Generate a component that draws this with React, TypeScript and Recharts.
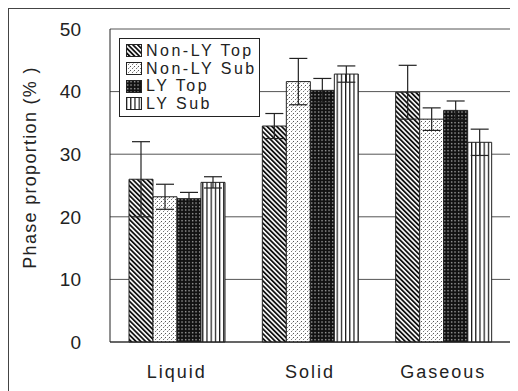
import { BarChart, Bar, XAxis, YAxis, CartesianGrid, ErrorBar, Legend } from 'recharts';

const categories = ['Liquid', 'Solid', 'Gaseous'];
const seriesNames = ['Non-LY Top', 'Non-LY Sub', 'LY Top', 'LY Sub'];

const nonLyTop = [26.0, 34.5, 39.9];
const nonLyTopErr = [6.0, 2.0, 4.3];
const nonLySub = [23.2, 41.6, 35.6];
const nonLySubErr = [2.0, 3.7, 1.8];
const lyTop = [22.9, 40.2, 37.0];
const lyTopErr = [1.0, 1.9, 1.5];
const lySub = [25.5, 42.8, 31.9];
const lySubErr = [0.9, 1.3, 2.1];

const yTicks = [0, 10, 20, 30, 40, 50];

const data = categories.map((name, i) => ({
  name,
  nonLyTop: nonLyTop[i],
  nonLyTopErr: nonLyTopErr[i],
  nonLySub: nonLySub[i],
  nonLySubErr: nonLySubErr[i],
  lyTop: lyTop[i],
  lyTopErr: lyTopErr[i],
  lySub: lySub[i],
  lySubErr: lySubErr[i],
}));

const series = [
  { key: 'nonLyTop', err: 'nonLyTopErr', fill: 'url(#pat-diag)' },
  { key: 'nonLySub', err: 'nonLySubErr', fill: 'url(#pat-dots)' },
  { key: 'lyTop', err: 'lyTopErr', fill: 'url(#pat-dark)' },
  { key: 'lySub', err: 'lySubErr', fill: 'url(#pat-vert)' },
];

const FONT = '"Liberation Sans", Arial, sans-serif';
const INK = '#222';

function Patterns() {
  return (
    <defs>
      <pattern id="pat-diag" width="3.4" height="3.4" patternUnits="userSpaceOnUse" patternTransform="rotate(-45)">
        <rect width="3.4" height="3.4" fill="#fff" />
        <rect x="0" width="1.8" height="3.4" fill="#111" />
      </pattern>
      <pattern id="pat-dots" width="4" height="4" patternUnits="userSpaceOnUse">
        <rect width="4" height="4" fill="#fff" />
        <rect x="0" y="0" width="1" height="1" fill="#555" />
        <rect x="2" y="2" width="1" height="1" fill="#777" />
        <rect x="3" y="1" width="0.8" height="0.8" fill="#aaa" />
      </pattern>
      <pattern id="pat-dark" width="3.5" height="3.5" patternUnits="userSpaceOnUse">
        <rect width="3.5" height="3.5" fill="#111" />
        <rect x="1" y="1" width="1.2" height="1.2" fill="#ddd" />
      </pattern>
      <pattern id="pat-vert" width="4.2" height="4" patternUnits="userSpaceOnUse">
        <rect width="4.2" height="4" fill="#fff" />
        <rect x="0" width="1.2" height="4" fill="#111" />
      </pattern>
    </defs>
  );
}

function YLabel({ viewBox }: any) {
  const x = viewBox.x - 20;
  const y = viewBox.y + viewBox.height / 2 - 18;
  return (
    <text
      x={x}
      y={y}
      transform={`rotate(-90, ${x}, ${y})`}
      textAnchor="middle"
      dominantBaseline="central"
      fontFamily={FONT}
      fontSize={18}
      fill={INK}
      letterSpacing={1.3}
    >
      Phase proportion (% )
    </text>
  );
}

function LegendBox() {
  return (
    <div
      style={{
        border: `1px solid ${INK}`,
        background: '#fff',
        padding: '3px 6px',
        width: 127,
        fontFamily: FONT,
        fontSize: 16,
        color: INK,
        letterSpacing: 2.5,
        lineHeight: '17.7px',
        whiteSpace: 'nowrap',
      }}
    >
      {seriesNames.map((name, i) => (
        <div key={name} style={{ display: 'flex', alignItems: 'center' }}>
          <svg width={16} height={13} style={{ marginRight: 4, flex: 'none' }}>
            <rect x={0.5} y={0.5} width={15} height={12} fill={series[i].fill} stroke={INK} />
          </svg>
          <span>{name}</span>
        </div>
      ))}
    </div>
  );
}

export default function App() {
  return (
    <div
      style={{
        borderTop: '1px solid #444',
        borderLeft: '1px solid #444',
        width: 509,
        height: 382,
        background: '#fff',
      }}
    >
      <BarChart
        width={509}
        height={382}
        data={data}
        margin={{ top: 20, right: 8, left: 41, bottom: 19 }}
        barSize={24}
        barGap={0}
      >
        <Patterns />
        <CartesianGrid vertical={false} stroke="#555" strokeWidth={1} />
        <XAxis
          dataKey="name"
          axisLine={{ stroke: INK }}
          tickLine={false}
          tickSize={6}
          tickMargin={17}
          height={30}
          tick={{ fill: INK, fontSize: 18, fontFamily: FONT, letterSpacing: 2 }}
        />
        <YAxis
          domain={[0, 50]}
          ticks={yTicks}
          interval={0}
          width={60}
          axisLine={{ stroke: INK }}
          tickLine={false}
          tickSize={6}
          tickMargin={23}
          tick={{ fill: INK, fontSize: 19, fontFamily: FONT }}
          label={{ content: YLabel }}
        />
        <YAxis
          yAxisId="right"
          orientation="right"
          domain={[0, 50]}
          width={0}
          tick={false}
          tickLine={false}
          axisLine={{ stroke: '#555' }}
        />
        <Legend
          layout="vertical"
          align="center"
          verticalAlign="middle"
          content={<LegendBox />}
          wrapperStyle={{ left: 110, top: 29, width: 141 }}
        />
        {series.map((s, i) => (
          <Bar
            key={s.key}
            dataKey={s.key}
            name={seriesNames[i]}
            fill={s.fill}
            stroke={INK}
            strokeWidth={1}
            isAnimationActive={false}
          >
            <ErrorBar dataKey={s.err} width={9} stroke={INK} strokeWidth={1.2} />
          </Bar>
        ))}
      </BarChart>
    </div>
  );
}
